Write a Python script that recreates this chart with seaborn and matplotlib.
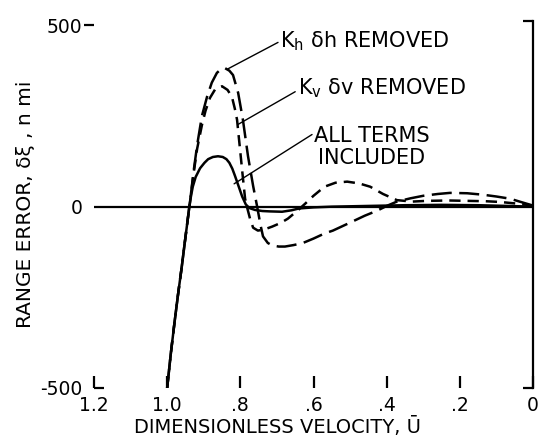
import matplotlib
matplotlib.use("Agg")
import matplotlib.pyplot as plt
import matplotlib.lines as mlines
import numpy as np
import pandas as pd
import seaborn as sns

# ---- data ----
u_kh = [1.0, 0.99, 0.98, 0.97, 0.96, 0.952, 0.945, 0.94, 0.935, 0.928, 0.918, 0.905,
        0.891, 0.878, 0.864, 0.852, 0.842, 0.83, 0.82, 0.806, 0.793, 0.779, 0.765, 0.754,
        0.745, 0.738, 0.725, 0.713, 0.695, 0.678, 0.655, 0.631, 0.60, 0.57, 0.547, 0.50,
        0.46, 0.426, 0.40, 0.372, 0.335, 0.30, 0.26, 0.227, 0.18, 0.137, 0.10, 0.063,
        0.03, 0.0]
err_kh = [-500, -405, -320, -240, -165, -100, -45, -5, 35, 95, 170, 250,
          303, 342, 369, 380, 382, 375, 363, 314, 240, 139, 57, 0,
          -50, -82, -100, -107, -110, -110, -106, -101, -88, -74, -66, -44,
          -25, -11, 2, 14, 23, 30, 35, 38, 37, 33, 28, 22,
          12, 3]

u_kv = [1.0, 0.99, 0.98, 0.97, 0.96, 0.952, 0.945, 0.94, 0.935, 0.928, 0.918, 0.905,
        0.895, 0.883, 0.868, 0.85, 0.835, 0.823, 0.815, 0.809, 0.80, 0.793, 0.787, 0.782,
        0.773, 0.765, 0.752, 0.735, 0.713, 0.69, 0.67, 0.645, 0.623, 0.60, 0.57, 0.54,
        0.508, 0.475, 0.445, 0.41, 0.372, 0.33, 0.29, 0.23, 0.18, 0.13, 0.09, 0.04, 0.0]
err_kv = [-500, -405, -320, -240, -165, -100, -45, -5, 33, 90, 160, 225,
          265, 300, 325, 332, 322, 303, 270, 240, 150, 80, 22, 0,
          -35, -58, -66, -63, -55, -45, -33, -12, 8, 30, 55, 66,
          69, 64, 55, 35, 18, 14, 16, 17, 16, 15, 13, 8, 3]

u_all = [1.0, 0.99, 0.98, 0.97, 0.96, 0.952, 0.945, 0.94, 0.935, 0.93, 0.922, 0.91,
         0.898, 0.888, 0.875, 0.861, 0.848, 0.838, 0.83, 0.822, 0.815, 0.807, 0.795, 0.785,
         0.775, 0.76, 0.74, 0.72, 0.686, 0.66, 0.64, 0.60, 0.55, 0.45, 0.35, 0.25,
         0.15, 0.07, 0.0]
err_all = [-500, -405, -320, -240, -165, -100, -45, -5, 28, 55, 82, 106,
           121, 131, 137, 139, 137, 131, 121, 105, 86, 63, 28, 6,
           -4, -9, -12, -13, -14, -10, -5, -2, 0, 2, 4, 5,
           4, 2, 0]

case_names = ["Kh removed", "Kv removed", "All terms included"]

x_ticks = [1.2, 1.0, 0.8, 0.6, 0.4, 0.2, 0.0]
x_labels = ["1.2", "1.0", ".8", ".6", ".4", ".2", "0"]
y_ticks = [500, 0, -500]
y_labels = ["500", "0", "-500"]

df = pd.concat([
    pd.DataFrame({"u": u_kh, "err": err_kh, "case": case_names[0]}),
    pd.DataFrame({"u": u_kv, "err": err_kv, "case": case_names[1]}),
    pd.DataFrame({"u": u_all, "err": err_all, "case": case_names[2]}),
], ignore_index=True)

sns.set_theme(style="white")
plt.rcParams["font.family"] = ["DejaVu Sans"]
plt.rcParams["mathtext.fontset"] = "dejavusans"

fig = plt.figure(figsize=(5.43, 4.43), dpi=100)
ax = fig.add_axes([0.1731, 0.1242, 0.8085, 0.8284])

sns.lineplot(data=df, x="u", y="err", style="case",
             dashes={case_names[0]: (8, 3), case_names[1]: (4.5, 2.8), case_names[2]: ""},
             color="black", linewidth=1.8, estimator=None, sort=False,
             legend=False, ax=ax)

ax.axhline(0, color="black", lw=1.6, zorder=1)

ax.set_xlim(1.2, 0)
ax.set_ylim(-500, 512)

for s in ["left", "top", "bottom"]:
    ax.spines[s].set_visible(False)
ax.spines["right"].set_visible(True)
ax.spines["right"].set_color("black")
ax.spines["right"].set_linewidth(1.6)

ax.set_xticks(x_ticks, labels=x_labels)
ax.set_yticks(y_ticks, labels=y_labels)
ax.tick_params(axis="x", direction="in", length=8.5, width=1.6, pad=6,
               labelsize=13.5, color="black", labelcolor="black", bottom=True)
ax.tick_params(axis="y", direction="out", length=7, width=1.6, pad=1.5,
               labelsize=13.5, color="black", labelcolor="black", left=True)
for t, v in zip(ax.yaxis.get_major_ticks(), y_ticks):
    if v == 0:
        t.tick1line.set_markersize(0)
    elif v == -500:
        t.tick1line.set_marker(mlines.TICKRIGHT)

# corner hooks on the right side
for yy in (0, 1):
    ax.plot([0.977, 1.0], [yy, yy], transform=ax.transAxes, color="black",
            lw=1.6, clip_on=False, solid_capstyle="butt")

ax.set_xlabel("DIMENSIONLESS VELOCITY, Ū", fontsize=14, color="black")
ax.xaxis.set_label_coords(0.419, -0.08)
ax.set_ylabel("RANGE ERROR, δξ , n mi", fontsize=14.5, color="black")
ax.yaxis.set_label_coords(-0.135, 0.5)

lead = dict(arrowstyle="-", lw=1.0, color="black", shrinkA=0, shrinkB=0)
ax.annotate("", xy=(0.834, 380), xytext=(0.697, 453), arrowprops=lead)
ax.annotate("", xy=(0.806, 227), xytext=(0.650, 317), arrowprops=lead)
ax.annotate("", xy=(0.817, 63), xytext=(0.604, 199), arrowprops=lead)

ax.text(0.692, 440, r"K$_{\mathrm{h}}$ δh REMOVED", fontsize=15,
        ha="left", va="baseline", color="black")
ax.text(0.642, 309, r"K$_{\mathrm{v}}$ δv REMOVED", fontsize=15,
        ha="left", va="baseline", color="black")
ax.text(0.44, 177, "ALL TERMS", fontsize=15, ha="center", va="baseline", color="black")
ax.text(0.44, 117, "INCLUDED", fontsize=15, ha="center", va="baseline", color="black")

fig.savefig("out.png", dpi=100)
